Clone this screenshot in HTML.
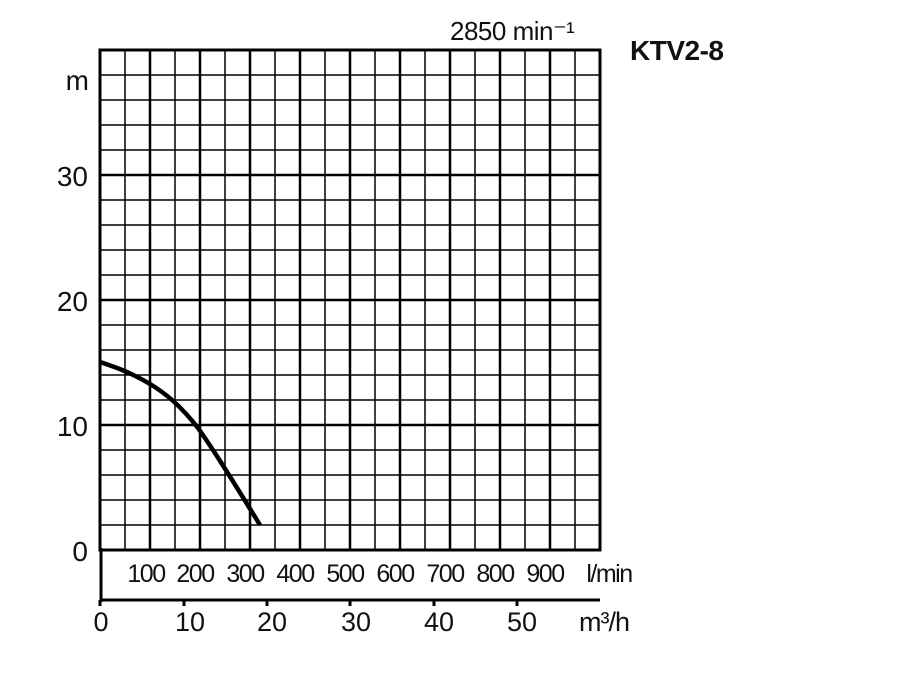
<!DOCTYPE html>
<html><head><meta charset="utf-8"><style>
html,body{margin:0;padding:0;background:#fff;}
svg{display:block;}
text{font-family:"Liberation Sans",Arial,sans-serif;fill:#111;}
</style></head><body>
<svg width="900" height="700" viewBox="0 0 900 700" xmlns="http://www.w3.org/2000/svg">
<g stroke="#000" stroke-width="1.5">
<path d="M125 50V550M175 50V550M225 50V550M275 50V550M325 50V550M375 50V550M425 50V550M475 50V550M525 50V550M575 50V550"/>
<path d="M100 75H600M100 100H600M100 125H600M100 150H600M100 200H600M100 225H600M100 250H600M100 275H600M100 325H600M100 350H600M100 375H600M100 400H600M100 450H600M100 475H600M100 500H600M100 525H600"/>
</g>
<g stroke="#000" stroke-width="2.5">
<path d="M150 50V550M200 50V550M250 50V550M300 50V550M350 50V550M400 50V550M450 50V550M500 50V550M550 50V550"/>
<path d="M100 175H600M100 300H600M100 425H600"/>
</g>
<rect x="100" y="50" width="500" height="500" fill="none" stroke="#000" stroke-width="3"/>
<path d="M101 548V602M100 600H600M100 600V606M184 600V606M267 600V606M350 600V606M434 600V606M517 600V606" stroke="#000" stroke-width="3" fill="none"/>
<path d="M100 362 C115 367 130 372 150 384 C165 393 180 405 198 428 C210 445 220 460 260 525" stroke="#000" stroke-width="4.5" fill="none"/>
<g font-size="28" text-anchor="end">
<text x="89" y="90">m</text>
<text x="88" y="186">30</text>
<text x="88" y="311">20</text>
<text x="88" y="436">10</text>
<text x="88" y="561">0</text>
</g>
<g font-size="25" text-anchor="middle" letter-spacing="-1.5">
<text x="146" y="582">100</text><text x="195" y="582">200</text><text x="245" y="582">300</text>
<text x="295" y="582">400</text><text x="345" y="582">500</text><text x="395" y="582">600</text>
<text x="445" y="582">700</text><text x="495" y="582">800</text><text x="545" y="582">900</text>
<text x="609" y="582">l/min</text>
</g>
<g font-size="27" text-anchor="middle">
<text x="101" y="631">0</text><text x="190" y="631">10</text><text x="272" y="631">20</text>
<text x="356" y="631">30</text><text x="439" y="631">40</text><text x="522" y="631">50</text>
<text x="604" y="631" letter-spacing="-1">m³/h</text>
</g>
<text x="450" y="40" font-size="26" letter-spacing="-0.5">2850 min⁻¹</text>
<text x="630" y="60" font-size="28" font-weight="bold" letter-spacing="-0.5">KTV2-8</text>
</svg>
</body></html>
